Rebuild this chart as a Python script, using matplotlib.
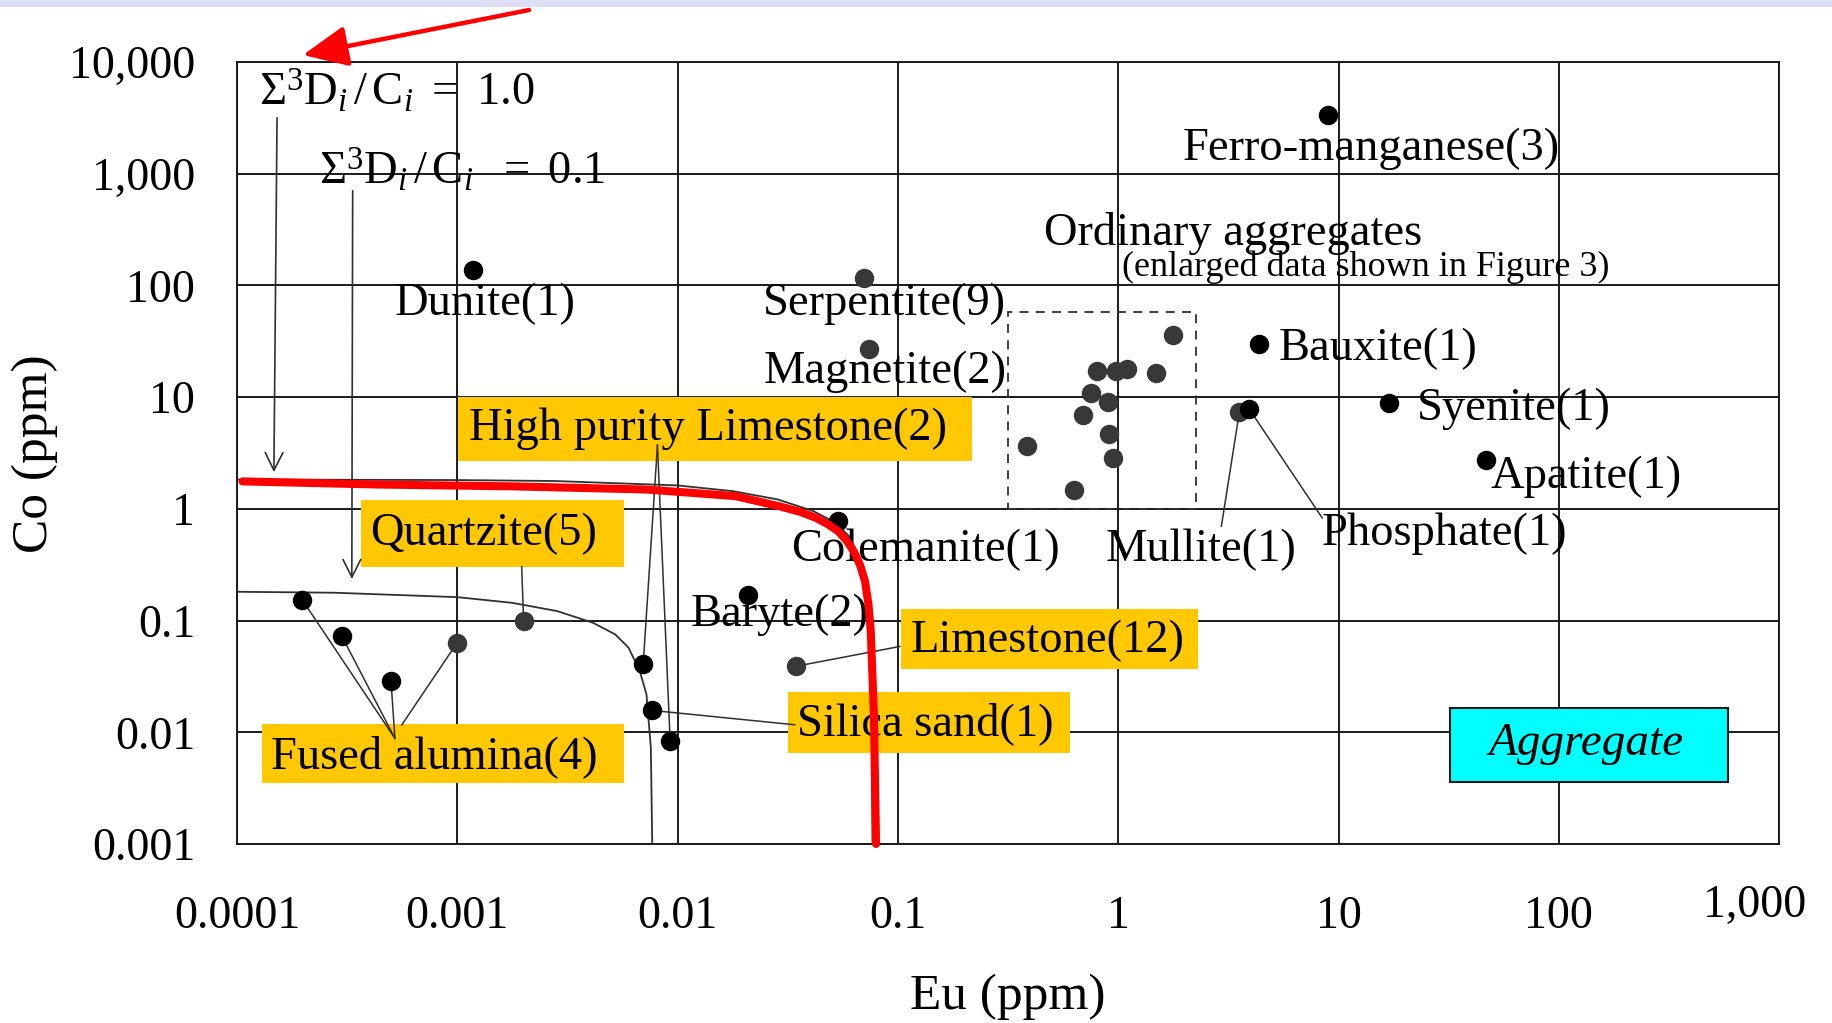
import matplotlib
matplotlib.use('Agg')
from matplotlib import pyplot as plt
from matplotlib.patches import Rectangle

plt.rcParams['font.family'] = ['Liberation Serif', 'DejaVu Serif']
plt.rcParams['mathtext.fontset'] = 'custom'
plt.rcParams['mathtext.rm'] = 'Liberation Serif'
plt.rcParams['mathtext.it'] = 'Liberation Serif:italic'
plt.rcParams['mathtext.bf'] = 'Liberation Serif:bold'

# axis ticks
x_ticks = [0.0001, 0.001, 0.01, 0.1, 1, 10, 100, 1000]
x_tick_labels = ['0.0001', '0.001', '0.01', '0.1', '1', '10', '100', '']
y_ticks = [0.001, 0.01, 0.1, 1, 10, 100, 1000, 10000]
y_tick_labels = ['0.001', '0.01', '0.1', '1', '10', '100', '1,000', '10,000']

# Eu / Co (ppm) of each material
ferro_eu, ferro_co = [8.96], [3340]
dunite_eu, dunite_co = [0.00118], [137]
serpentite_eu, serpentite_co = [0.070], [116]
magnetite_eu, magnetite_co = [0.0736], [27.2]
bauxite_eu, bauxite_co = [4.37], [30.2]
syenite_eu, syenite_co = [16.9], [8.77]
apatite_eu, apatite_co = [46.5], [2.73]
mullite_eu, mullite_co = [3.55], [7.4]
phosphate_eu, phosphate_co = [3.92], [7.9]
colemanite_eu, colemanite_co = [0.0535], [0.785]
baryte_eu, baryte_co = [0.0209], [0.171]
limestone_eu, limestone_co = [0.0345], [0.039]
silica_eu, silica_co = [0.00764], [0.0157]
hp_limestone_eu, hp_limestone_co = [0.00698, 0.00925], [0.0406, 0.00838]
quartzite_eu, quartzite_co = [0.002], [0.0990]
fused_eu = [0.000198, 0.000299, 0.0005, 0.000994]
fused_co = [0.1526, 0.0726, 0.0287, 0.0625]
ordinary_eu = [0.387, 0.632, 0.693, 0.75, 0.80, 0.90, 0.905, 0.95, 0.98, 1.10, 1.48, 1.78]
ordinary_co = [3.67, 1.47, 6.9, 10.9, 17.1, 9.0, 4.69, 2.85, 17.1, 17.9, 16.5, 36.1]

# sum D/C limit lines
limit01_eu = [0.0001, 0.000276, 0.001, 0.00178, 0.00284, 0.00412, 0.00521, 0.00599,
              0.00673, 0.00722, 0.00756, 0.00767]
limit01_co = [0.181, 0.1775, 0.162, 0.144, 0.1215, 0.0957, 0.0752, 0.0571,
              0.0354, 0.0219, 0.0073, 0.001]
limit1_eu = [0.0001, 0.001, 0.00276, 0.01, 0.0178, 0.0284, 0.0412, 0.0521, 0.0599,
             0.0673, 0.0722, 0.0756, 0.0767]
limit1_co = [1.83, 1.81, 1.775, 1.62, 1.44, 1.215, 0.957, 0.752, 0.571,
             0.354, 0.219, 0.073, 0.001]
# hand drawn red line
red_eu = [0.000106, 0.00044, 0.00178, 0.0072, 0.0183, 0.0292, 0.036, 0.0425, 0.048,
          0.0536, 0.0585, 0.063, 0.0675, 0.0709, 0.0735, 0.0753, 0.0778, 0.0796]
red_co = [1.76, 1.65, 1.59, 1.49, 1.30, 1.05, 0.94, 0.83, 0.73,
          0.63, 0.52, 0.418, 0.31, 0.225, 0.14, 0.0805, 0.0145, 0.001]

BLACK = '#000000'
GREY = '#383838'
YELLOW = '#FFC800'
LINE = '#303030'
FS = 33.5

fig = plt.figure(figsize=(18.33, 10.23), dpi=100)
ax = fig.add_axes([0.1293, 0.1750, 0.8413, 0.7644])
ax.set_xscale('log')
ax.set_yscale('log')
ax.set_xlim(0.0001, 1000)
ax.set_ylim(0.001, 10000)
ax.set_xticks(x_ticks)
ax.set_xticklabels(x_tick_labels)
ax.set_yticks(y_ticks)
ax.set_yticklabels(y_tick_labels)
ax.minorticks_off()
ax.tick_params(length=0, labelsize=33)
ax.tick_params(axis='x', pad=37)
ax.tick_params(axis='y', pad=30)
ax.grid(True, color='#1a1a1a', lw=1.4)
ax.set_axisbelow(True)
for s in ax.spines.values():
    s.set_color('#1a1a1a')
    s.set_linewidth(1.4)

# last x label sits a bit left and higher in the original
ax.text(0.9844, -0.0793, '1,000', transform=ax.transAxes, fontsize=33,
        ha='center', va='center')

# top band of the slide
fig.patches.append(Rectangle((0, 1016 / 1023), 1, 7 / 1023, transform=fig.transFigure,
                             facecolor='#DCDFF5', edgecolor='none'))

# limit curves
ax.plot(limit01_eu, limit01_co, color=LINE, lw=1.3, zorder=3)
ax.plot(limit1_eu, limit1_co, color=LINE, lw=1.3, zorder=3)

# dashed box round ordinary aggregates
ax.add_patch(Rectangle((0.315, 1.0), 2.26 - 0.315, 57.4 - 1.0, fill=False,
                       ls=(0, (5, 4)), lw=1.3, edgecolor=LINE, zorder=3))


# yellow label boxes (axes fraction)
def yellow_label(x0, y0, x1, y1, tx, ty, text):
    ax.add_patch(Rectangle((x0, y0), x1 - x0, y1 - y0, transform=ax.transAxes,
                           facecolor=YELLOW, edgecolor='none', zorder=4))
    ax.text(tx, ty, text, transform=ax.transAxes, fontsize=FS, ha='left', va='center', zorder=5)


yellow_label(0.1433, 0.4898, 0.4767, 0.5716, 0.1505, 0.5307, 'High purity Limestone(2)')
yellow_label(0.0804, 0.3542, 0.2510, 0.4399, 0.0866, 0.3964, 'Quartzite(5)')
yellow_label(0.0160, 0.0780, 0.2510, 0.1535, 0.0222, 0.1120, 'Fused alumina(4)')
yellow_label(0.4306, 0.2238, 0.6232, 0.3005, 0.4369, 0.2601, 'Limestone(12)')
yellow_label(0.3573, 0.1164, 0.5402, 0.1944, 0.3631, 0.1540, 'Silica sand(1)')

# Aggregate box
ax.add_patch(Rectangle((0.7866, 0.0793), 0.9669 - 0.7866, 0.1739 - 0.0793, transform=ax.transAxes,
                       facecolor='#00FFFF', edgecolor='#1a1a1a', lw=1.5, zorder=4))
ax.text(0.875, 0.128, 'Aggregate', transform=ax.transAxes, fontsize=34, style='italic',
        ha='center', va='center', zorder=5)


# leader lines
def leader(x0, y0, x1, y1):
    ax.plot([x0, x1], [y0, y1], color=LINE, lw=1.1, zorder=6)


for i in range(3):
    leader(0.000521, 0.00881, fused_eu[i], fused_co[i])
leader(0.000559, 0.0116, fused_eu[3], fused_co[3])
leader(0.00196, 0.303, quartzite_eu[0], quartzite_co[0])
for i in range(2):
    leader(0.0081, 3.72, hp_limestone_eu[i], hp_limestone_co[i])
leader(0.034, 0.01167, silica_eu[0], silica_co[0])
leader(0.102, 0.0586, limestone_eu[0], limestone_co[0])
leader(2.94, 0.70, mullite_eu[0], mullite_co[0])
leader(8.43, 0.83, phosphate_eu[0], phosphate_co[0])

# points
grey_sets = [(ordinary_eu, ordinary_co), (serpentite_eu, serpentite_co),
             (magnetite_eu, magnetite_co), (mullite_eu, mullite_co),
             (limestone_eu, limestone_co), (quartzite_eu, quartzite_co),
             (fused_eu[3:], fused_co[3:])]
black_sets = [(ferro_eu, ferro_co), (dunite_eu, dunite_co), (bauxite_eu, bauxite_co),
              (syenite_eu, syenite_co), (apatite_eu, apatite_co),
              (phosphate_eu, phosphate_co), (colemanite_eu, colemanite_co),
              (baryte_eu, baryte_co), (silica_eu, silica_co),
              (hp_limestone_eu, hp_limestone_co), (fused_eu[:3], fused_co[:3])]
for xs, ys in grey_sets:
    ax.plot(xs, ys, 'o', color=GREY, ms=13, zorder=7)
for xs, ys in black_sets:
    ax.plot(xs, ys, 'o', color=BLACK, ms=13, zorder=7)

# plain labels
labels = [
    (1.97, 1683, 'Ferro-manganese(3)', FS),
    (0.459, 290, 'Ordinary aggregates', FS),
    (1.04, 144, '(enlarged data shown in Figure 3)', 26),
    (0.000521, 68.2, 'Dunite(1)', FS),
    (0.0245, 68.2, 'Serpentite(9)', FS),
    (0.0245, 16.9, 'Magnetite(2)', FS),
    (5.36, 27.3, 'Bauxite(1)', FS),
    (22.7, 7.8, 'Syenite(1)', FS),
    (49, 1.93, 'Apatite(1)', FS),
    (8.43, 0.593, 'Phosphate(1)', FS),
    (0.879, 0.434, 'Mullite(1)', FS),
    (0.0328, 0.434, 'Colemanite(1)', FS),
    (0.01146, 0.1125, 'Baryte(2)', FS),
    (0.000126, 5470, r'$\Sigma^3$D$_i\,/\,$C$_i$ $=$ 1.0', FS),
    (0.000235, 1065, r'$\Sigma^3$D$_i\,/\,$C$_i$  $=$ 0.1', FS),
]
for x, y, t, fs in labels:
    ax.text(x, y, t, fontsize=fs, ha='left', va='center', zorder=5)

# arrows from the formulas to the curves
ax.annotate('', xy=(0.000147, 2.01), xytext=(0.000152, 3354),
            arrowprops=dict(arrowstyle='->', color=LINE, lw=1.2, mutation_scale=32), zorder=6)
ax.annotate('', xy=(0.000332, 0.222), xytext=(0.000335, 745),
            arrowprops=dict(arrowstyle='->', color=LINE, lw=1.2, mutation_scale=32), zorder=6)

# red hand drawn boundary
ax.plot(red_eu, red_co, color='#FF0000', lw=5.8, solid_capstyle='round',
        solid_joinstyle='round', zorder=8, clip_on=False)

# red arrow at the top
fig_h = 1023
ax.annotate('', xy=(303, fig_h - 55), xytext=(529, fig_h - 10), xycoords='figure pixels',
            textcoords='figure pixels',
            arrowprops=dict(arrowstyle='-|>,head_length=1.1,head_width=0.5', color='#FF0000',
                            lw=3.2, mutation_scale=25, shrinkA=0, shrinkB=0),
            annotation_clip=False)

fig.text(35 / 1833, 1 - 454 / 1023, 'Co (ppm)', rotation=90, ha='center', va='center', fontsize=37)
fig.text(1008 / 1833, 1 - 997 / 1023, 'Eu (ppm)', ha='center', va='center', fontsize=37)

fig.savefig('out.png', dpi=100)
